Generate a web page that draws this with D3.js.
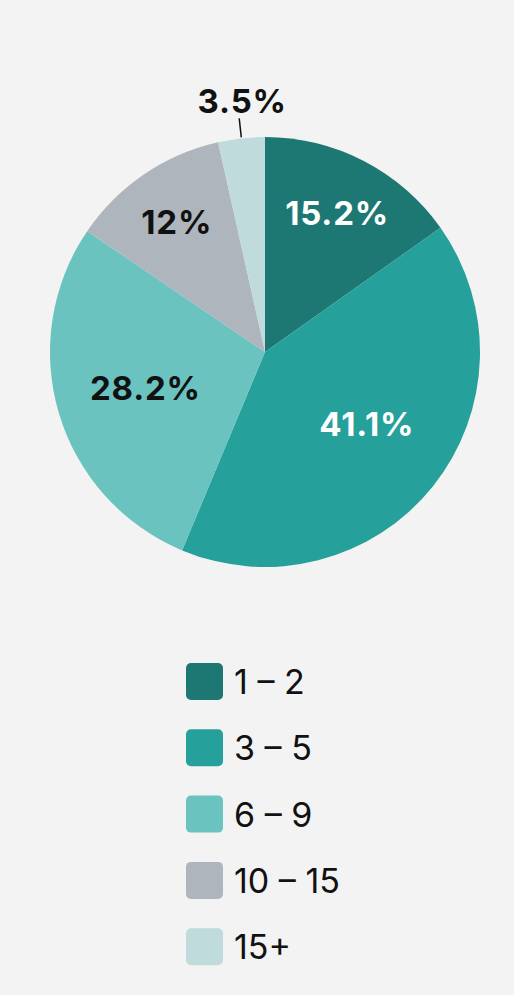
<!DOCTYPE html>
<html><head><meta charset="utf-8">
<script src="https://cdn.jsdelivr.net/npm/d3@7"></script>
<style>
html,body{margin:0;padding:0;background:#f3f3f3;}
svg{display:block;}
</style></head>
<body>
<svg id="chart" width="514" height="995"></svg>
<script>
const categories = ["1 – 2", "3 – 5", "6 – 9", "10 – 15", "15+"];
const values = [15.2, 41.1, 28.2, 12, 3.5];
const labels = ["15.2%", "41.1%", "28.2%", "12%", "3.5%"];
const colors = ["#1d7873", "#26a09a", "#6ac3bf", "#afb5bc", "#bfdbdc"];
const labelColors = ["#ffffff", "#ffffff", "#111111", "#111111", "#111111"];

const svg = d3.select("#chart");
const cx = 265, cy = 352, R = 215;
const font = "Inter, 'Open Sans', sans-serif";

const pie = d3.pie().sort(null).value(d => d)(values);
const arc = d3.arc().innerRadius(0).outerRadius(R);
const g = svg.append("g").attr("transform", `translate(${cx},${cy})`);

g.selectAll("path.slice").data(pie).join("path")
  .attr("class","slice")
  .attr("d", arc)
  .attr("fill", (d,i) => colors[i]);

const color = d3.scaleOrdinal().domain(categories).range(colors);

function addLabel(x, y, i) {
  g.append("text").attr("x", x).attr("y", y)
    .attr("text-anchor","middle").attr("dominant-baseline","central")
    .attr("font-family",font).attr("font-weight",700).attr("font-size",33)
    .attr("letter-spacing",0.8)
    .attr("fill",labelColors[i]).text(labels[i]);
}

pie.forEach((d,i) => {
  const frac = values[i] / d3.sum(values);
  const mid = (d.startAngle + d.endAngle) / 2;
  if (frac < 0.05) {
    const p1 = [Math.sin(mid)*(R+1), -Math.cos(mid)*(R+1)];
    const p2 = [Math.sin(mid)*(R+20), -Math.cos(mid)*(R+20)];
    g.append("line").attr("x1",p1[0]).attr("y1",p1[1]).attr("x2",p2[0]).attr("y2",p2[1])
      .attr("stroke","#111").attr("stroke-width",1.5);
    addLabel(p2[0] + 3, p2[1] - 17, i);
  } else {
    const lr = frac > 0.25 ? R*0.58 : R*0.73;
    const a = frac > 0.4 ? mid - 0.06 : mid;
    addLabel(Math.sin(a)*lr, -Math.cos(a)*lr, i);
  }
});

// legend
const step = 66.3;
const leg = svg.append("g");
categories.forEach((c,i) => {
  const y = 663 + i*step;
  leg.append("rect").attr("x",186).attr("y",y).attr("width",37).attr("height",37)
    .attr("rx",5).attr("fill", color(c));
  leg.append("text").attr("x",234).attr("y",y+18.5).attr("dominant-baseline","central")
    .attr("font-family",font).attr("font-weight",400).attr("font-size",34)
    .attr("fill","#111").text(c);
});
</script>
</body></html>
